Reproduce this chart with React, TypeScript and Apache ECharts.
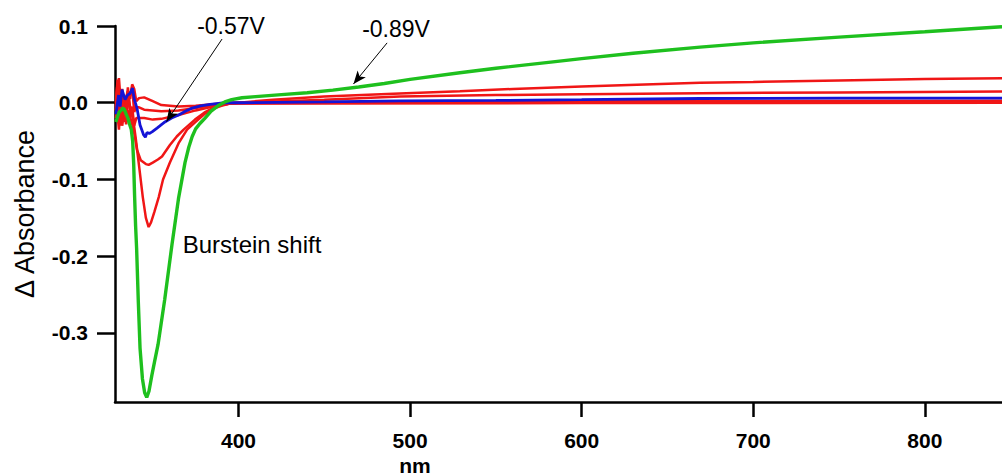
import React, { useEffect, useRef } from "react";
import * as echarts from "echarts";

// Wavelength (nm) / ΔAbsorbance pairs
const greenM089: [number, number][] = [
  [328.5, -0.025], [329.5, -0.018], [330.5, -0.012], [331.5, -0.01], [332.5, -0.007], [333.5, -0.009],
  [334.5, -0.015], [335.5, -0.02], [336.5, -0.028], [337.5, -0.035], [338.3, -0.05], [338.9, -0.08],
  [339.4, -0.12], [340, -0.16], [340.6, -0.19], [341.6, -0.26], [342.6, -0.32], [344, -0.36],
  [345.3, -0.378], [346.5, -0.384], [347.8, -0.376], [349.5, -0.355], [351, -0.338], [353.1, -0.315],
  [357, -0.256], [361.2, -0.185], [365, -0.125], [368.8, -0.078], [371, -0.058], [373, -0.044],
  [375, -0.034], [377.5, -0.027], [380.5, -0.02], [384, -0.011], [388, -0.004], [392, 0.001],
  [396, 0.004], [402, 0.0065], [410, 0.008], [425, 0.0105], [440, 0.013], [455, 0.0165],
  [470, 0.0205], [485, 0.025], [500, 0.0305], [529, 0.039], [550, 0.045], [582, 0.053],
  [600, 0.0575], [630, 0.0645], [669, 0.0725], [700, 0.078], [750, 0.0855], [800, 0.0925],
  [845, 0.099],
];

const blueM057: [number, number][] = [
  [328.5, -0.015], [330.1, 0.01], [331, -0.005], [332.1, 0.017], [333.9, 0.004], [335.3, 0.01],
  [336.7, 0.012], [338.2, 0.019], [339.2, 0.005], [340.8, -0.007], [342.6, -0.029], [344.7, -0.042],
  [345.7, -0.045], [346.6, -0.039], [348, -0.04], [349.6, -0.038], [352.5, -0.033], [357.1, -0.025],
  [361, -0.02], [365.1, -0.016], [369, -0.011], [372.9, -0.007], [378, -0.004], [383.4, -0.002],
  [392, 0], [400, 0], [450, 0.001], [494, 0.0023], [550, 0.003], [600, 0.004], [669, 0.0055],
  [750, 0.006], [845, 0.006],
];

const red1: [number, number][] = [
  [328.5, -0.01], [329.5, 0.025], [331, -0.03], [332.5, 0.005], [334, -0.02], [335.5, 0.02],
  [337, -0.01], [338.5, -0.02], [340, -0.045], [341.8, -0.078], [344.2, -0.123], [346, -0.15],
  [347.6, -0.162], [349, -0.156], [351, -0.142], [353.5, -0.123], [356, -0.1], [360, -0.078],
  [365, -0.053], [370, -0.035], [375, -0.025], [380, -0.015], [385, -0.008], [390, -0.004],
  [395, -0.001], [400, 0], [420, 0.004], [450, 0.008], [494, 0.012], [529, 0.015], [560, 0.018],
  [600, 0.021], [669, 0.026], [700, 0.027], [750, 0.029], [800, 0.031], [845, 0.032],
];

const red2: [number, number][] = [
  [328.5, 0.0], [329.5, 0.03], [331, -0.02], [332.5, 0.01], [334, -0.025], [335.5, 0.015],
  [337, -0.02], [338.9, -0.035], [340.8, -0.061], [343, -0.075], [346, -0.08], [347.6, -0.081],
  [350, -0.078], [353, -0.074], [355.4, -0.07], [360, -0.055], [364, -0.044], [368, -0.035],
  [374.6, -0.022], [380, -0.013], [385, -0.007], [390, -0.003], [395, -0.001], [400, 0],
  [450, 0.004], [494, 0.008], [550, 0.01], [600, 0.011], [669, 0.0124], [750, 0.0135], [845, 0.0145],
];

const red3: [number, number][] = [
  [328.5, -0.005], [329.2, 0.02], [330.3, 0.032], [331.2, 0.005], [332.2, 0.018], [333.3, -0.01],
  [334.5, 0.008], [335.6, 0.015], [336.8, 0.005], [338, 0.024], [339.2, 0.018], [340.4, 0.002],
  [342, 0.006], [345, 0.007], [350, 0.002], [355, -0.003], [365, -0.005], [375, -0.004],
  [385, -0.002], [395, 0], [450, 0.001], [600, 0.002], [845, 0.0025],
];

const red4: [number, number][] = [
  [328.5, -0.01], [329.2, 0.005], [330.3, -0.025], [331.2, 0.012], [332.2, -0.02], [333.3, 0.004],
  [334.5, -0.015], [335.6, 0.0], [336.8, 0.01], [338, 0.02], [339.2, -0.012], [340.4, -0.006],
  [342, -0.006], [345, -0.009], [355, -0.011], [365, -0.01], [375, -0.007], [385, -0.003],
  [395, -0.001], [450, 0.0], [600, 0.0005], [845, 0.001],
];

const red5: [number, number][] = [
  [328.5, -0.02], [329.2, -0.01], [330.3, -0.035], [331.2, -0.005], [332.2, -0.03], [333.3, -0.012],
  [334.5, -0.028], [335.6, -0.01], [336.8, -0.02], [338, -0.005], [339.2, -0.03], [340.4, -0.02],
  [342, -0.02], [345, -0.02], [350, -0.022], [355, -0.021], [365, -0.016], [375, -0.01],
  [385, -0.005], [395, -0.001], [450, -0.001], [600, -0.0005], [845, 0.0],
];

const xTicks = [400, 500, 600, 700, 800];
const yTicks = [-0.3, -0.2, -0.1, 0.0, 0.1];

const RED = "#f01616";
const GREEN = "#1ec01e";
const BLUE = "#1414d6";
const FONT = "'Liberation Sans', Arial, sans-serif";

export default function App() {
  const ref = useRef<HTMLDivElement>(null);
  useEffect(() => {
    if (!ref.current) return;
    const chart = echarts.init(ref.current, null, { renderer: "svg" });
    const redSeries = (data: [number, number][]) => ({
      type: "line",
      data,
      showSymbol: false,
      symbol: "none",
      lineStyle: { color: RED, width: 2.5 },
      itemStyle: { color: RED },
      silent: true,
    });
    chart.setOption({
      animation: false,
      backgroundColor: "#ffffff",
      grid: { left: 115, right: 0, top: 26, bottom: 74 },
      xAxis: {
        type: "value",
        min: 328,
        max: 845,
        axisLine: { show: true, onZero: false, lineStyle: { color: "#000", width: 2.5 } },
        axisTick: { show: true, inside: false, length: 15, customValues: xTicks, lineStyle: { color: "#000", width: 2.5 } },
        axisLabel: {
          customValues: xTicks,
          margin: 28,
          color: "#000",
          fontSize: 21,
          fontWeight: "bold",
          fontFamily: FONT,
        },
        splitLine: { show: false },
      },
      yAxis: {
        type: "value",
        min: -0.39,
        max: 0.1,
        name: "Δ Absorbance",
        nameLocation: "middle",
        nameRotate: 90,
        nameGap: 77,
        nameTextStyle: { fontSize: 27, color: "#000", fontFamily: FONT },
        axisLine: { show: true, onZero: false, lineStyle: { color: "#000", width: 2.5 } },
        axisTick: { show: true, inside: false, length: 18, customValues: yTicks, lineStyle: { color: "#000", width: 2.5 } },
        axisLabel: {
          customValues: yTicks,
          margin: 27,
          color: "#000",
          fontSize: 21,
          fontWeight: "bold",
          fontFamily: FONT,
          formatter: (v: number) => v.toFixed(1),
        },
        splitLine: { show: false },
      },
      series: [
        redSeries(red3),
        redSeries(red4),
        redSeries(red5),
        redSeries(red2),
        redSeries(red1),
        {
          type: "line",
          data: blueM057,
          symbol: "none",
          lineStyle: { color: BLUE, width: 2.8 },
          itemStyle: { color: BLUE },
          silent: true,
          markLine: {
            silent: true,
            symbol: ["none", "arrow"],
            symbolSize: [8, 13],
            label: { show: false },
            lineStyle: { color: "#000", width: 1, type: "solid" },
            itemStyle: { color: "#000" },
            emphasis: { disabled: true },
            data: [
              [{ coord: [390.4, 0.083] }, { coord: [358, -0.0246] }],
              [{ coord: [486.6, 0.078] }, { coord: [467, 0.0245] }],
            ],
          },
        },
        {
          type: "line",
          data: greenM089,
          symbol: "none",
          lineStyle: { color: GREEN, width: 3.4 },
          itemStyle: { color: GREEN },
          silent: true,
        },
      ],
      graphic: [
        {
          type: "text",
          x: 231,
          y: 26,
          style: { text: "-0.57V", font: `23px ${FONT}`, fill: "#000", textAlign: "center", textVerticalAlign: "middle", align: "center", verticalAlign: "middle" },
        },
        {
          type: "text",
          x: 396,
          y: 29,
          style: { text: "-0.89V", font: `23px ${FONT}`, fill: "#000", textAlign: "center", textVerticalAlign: "middle", align: "center", verticalAlign: "middle" },
        },
        {
          type: "text",
          x: 252,
          y: 244,
          style: { text: "Burstein shift", font: `24px ${FONT}`, fill: "#000", textAlign: "center", textVerticalAlign: "middle", align: "center", verticalAlign: "middle" },
        },
        {
          type: "text",
          x: 415,
          y: 465,
          style: { text: "nm", font: `bold 21px ${FONT}`, fill: "#000", textAlign: "center", textVerticalAlign: "middle", align: "center", verticalAlign: "middle" },
        },
      ],
    });
    return () => chart.dispose();
  }, []);
  return (
    <div
      ref={ref}
      style={{ position: "fixed", left: 0, top: 0, width: 1002, height: 476, background: "#fff" }}
    />
  );
}
